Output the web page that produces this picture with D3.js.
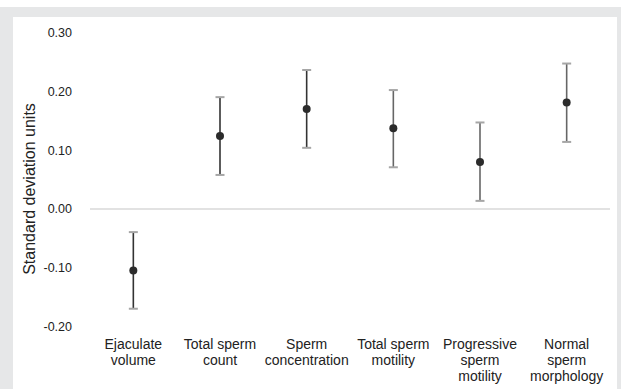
<!DOCTYPE html>
<html>
<head>
<meta charset="utf-8">
<script src="https://cdn.jsdelivr.net/npm/d3@7"></script>
<style>
  body { margin: 0; background: #fff; }
  text { font-family: "Liberation Sans", Arial, sans-serif; fill: #222; }
</style>
</head>
<body>
<div id="chart"></div>
<script>
// Data
var categories = [
    ["Ejaculate", "volume"],
    ["Total sperm", "count"],
    ["Sperm", "concentration"],
    ["Total sperm", "motility"],
    ["Progressive", "sperm", "motility"],
    ["Normal", "sperm", "morphology"]
];
var means = [-0.104, 0.124, 0.170, 0.137, 0.080, 0.181];
var lower = [-0.169, 0.058, 0.104, 0.071, 0.014, 0.114];
var upper = [-0.039, 0.190, 0.236, 0.202, 0.147, 0.247];
var yTicks = [-0.2, -0.1, 0, 0.1, 0.2, 0.3];

var width = 621, height = 389;

var svg = d3.select("#chart").append("svg")
    .attr("width", width)
    .attr("height", height);

// frame
svg.append("rect").attr("x", 0).attr("y", 7).attr("width", width).attr("height", height - 7).attr("fill", "#e6e7e8");
svg.append("rect").attr("x", 13).attr("y", 17).attr("width", 604).attr("height", height - 17).attr("fill", "#fff");

// scales
var x = d3.scaleBand()
    .domain(d3.range(categories.length))
    .range([90, 610]);
var y = d3.scaleLinear()
    .domain([-0.2, 0.3])
    .range([327, 32.3]);

// y tick labels
svg.append("g").selectAll("text")
    .data(yTicks)
    .enter().append("text")
    .attr("x", 72)
    .attr("y", function(d) { return y(d); })
    .attr("dy", "0.35em")
    .attr("text-anchor", "end")
    .attr("font-size", 12.5)
    .text(function(d) { return d3.format(".2f")(d).replace("\u2212", "-"); });

// y title
svg.append("text")
    .attr("transform", "translate(35," + 189 + ") rotate(-90)")
    .attr("text-anchor", "middle")
    .attr("font-size", 16)
    .text("Standard deviation units");

// zero line
svg.append("line")
    .attr("x1", 90).attr("x2", 610)
    .attr("y1", y(0)).attr("y2", y(0))
    .attr("stroke", "#d9d9d9")
    .attr("stroke-width", 1.5);

// error bars
var g = svg.append("g");
var cx = function(i) { return x(i) + x.bandwidth() / 2; };
var idx = d3.range(categories.length);

g.selectAll(".stem").data(idx).enter().append("line")
    .attr("x1", cx).attr("x2", cx)
    .attr("y1", function(i) { return y(upper[i]); })
    .attr("y2", function(i) { return y(lower[i]); })
    .attr("stroke", function(i) { return i < 3 ? "#333" : "#666"; })
    .attr("stroke-width", 1.6);

g.selectAll(".capU").data(idx).enter().append("line")
    .attr("x1", function(i) { return cx(i) - 4.5; })
    .attr("x2", function(i) { return cx(i) + 4.5; })
    .attr("y1", function(i) { return y(upper[i]); })
    .attr("y2", function(i) { return y(upper[i]); })
    .attr("stroke", "#a6a6a6")
    .attr("stroke-width", 2);

g.selectAll(".capL").data(idx).enter().append("line")
    .attr("x1", function(i) { return cx(i) - 4.5; })
    .attr("x2", function(i) { return cx(i) + 4.5; })
    .attr("y1", function(i) { return y(lower[i]); })
    .attr("y2", function(i) { return y(lower[i]); })
    .attr("stroke", "#a6a6a6")
    .attr("stroke-width", 2);

g.selectAll("circle").data(idx).enter().append("circle")
    .attr("cx", cx)
    .attr("cy", function(i) { return y(means[i]); })
    .attr("r", 4)
    .attr("fill", "#2b2b2b");

// category labels
var labels = svg.append("g").selectAll("text")
    .data(idx)
    .enter().append("text")
    .attr("text-anchor", "middle")
    .attr("font-size", 14)
    .attr("y", 344);
labels.selectAll("tspan")
    .data(function(i) { return categories[i].map(function(s) { return [i, s]; }); })
    .enter().append("tspan")
    .attr("x", function(d) { return cx(d[0]); })
    .attr("dy", function(d, j) { return j === 0 ? "0.35em" : 16.2; })
    .text(function(d) { return d[1]; });
</script>
</body>
</html>
